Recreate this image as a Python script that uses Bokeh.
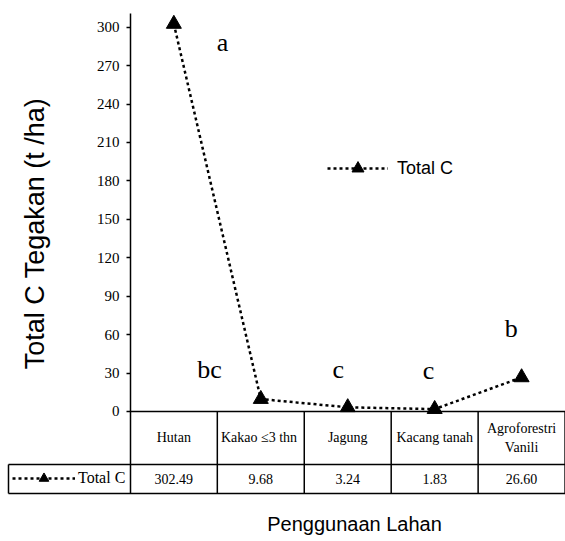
import math
from bokeh.plotting import figure
from bokeh.models import (Range1d, FixedTicker, Legend, LegendItem, Label)
from bokeh.core.properties import value
from bokeh.embed import file_html
from bokeh.resources import INLINE

# ---- data ----
categories = ["Hutan", "Kakao  \u22643 thn", "Jagung", "Kacang tanah", "Agroforestri\nVanili"]
total_c = [302.49, 9.68, 3.24, 1.83, 26.60]
sig_letters = ["a", "bc", "c", "c", "b"]
y_ticks = [0, 30, 60, 90, 120, 150, 180, 210, 240, 270, 300]
series_name = "Total C"
x_title = "Penggunaan Lahan"
y_title = "Total C Tegakan (t /ha)"

# ---- layout (positions of annotations, in data units) ----
letter_x = [1.06, 0.91, 2.39, 3.43, 4.38]
letter_y = [288, 32.8, 32.8, 32.0, 64.8]
row1_y = -41.4
row2_y = -64.0
table_left = -1.402

W, H = 565, 541
p = figure(width=W, height=H, output_backend="svg", toolbar_location=None,
           x_range=Range1d(-1.494, 5.005), y_range=Range1d(-101.5, 320.8),
           min_border=0, x_axis_location=None)
p.outline_line_color = None
p.grid.visible = False
p.background_fill_color = "white"

ax = p.yaxis[0]
ax.fixed_location = 0
ax.bounds = (row2_y, 310.6)
ax.ticker = FixedTicker(ticks=y_ticks)
ax.major_tick_out = 4
ax.major_tick_in = 0
ax.minor_tick_line_color = None
ax.axis_line_width = 1.5
ax.axis_line_color = "black"
ax.major_tick_line_color = "black"
ax.major_tick_line_width = 1.5
ax.major_label_text_font = "Liberation Serif"
ax.major_label_text_font_size = "15px"
ax.major_label_text_color = "black"
ax.major_label_standoff = 7

xs = [i + 0.5 for i in range(len(categories))]

# table lines
n = len(categories)
hx0 = [0, table_left, table_left]
hx1 = [n, n, n]
hy = [0, row1_y, row2_y]
p.segment(x0=hx0, y0=hy, x1=hx1, y1=hy, line_color="black", line_width=1.5)
vx = list(range(1, n + 1)) + [table_left]
vy0 = [row2_y] * n + [row2_y]
vy1 = [0] * n + [row1_y]
p.segment(x0=vx, y0=vy0, x1=vx, y1=vy1, line_color="black", line_width=1.5)

# series
lr = p.line(xs, total_c, line_color="black", line_width=2.5, line_dash="3 3")
sr = p.scatter(xs, total_c, marker="triangle", size=15, fill_color="black", line_color="black")

# category labels & values
p.text(x=xs, y=[row1_y / 2] * n, text=categories, text_align="center", text_baseline="middle",
       text_font=value("Liberation Serif"), text_font_size="14px", text_color="black",
       text_line_height=1.3)
p.text(x=xs, y=[(row1_y + row2_y) / 2] * n, text=[f"{v:.2f}" for v in total_c],
       text_align="center", text_baseline="middle",
       text_font=value("Liberation Serif"), text_font_size="14px", text_color="black")

# significance letters
p.text(x=letter_x, y=letter_y, text=sig_letters, text_align="center", text_baseline="middle",
       text_font=value("Liberation Serif"), text_font_size="26px", text_color="black")

# legends
leg = Legend(items=[LegendItem(label=series_name, renderers=[lr, sr])], location=(327, 358),
             glyph_width=61, glyph_height=30, padding=0, margin=0, label_standoff=9,
             border_line_color=None, background_fill_alpha=0,
             label_text_font="Liberation Sans", label_text_font_size="18px",
             label_text_color="black")
p.add_layout(leg)
leg2 = Legend(items=[LegendItem(label=series_name, renderers=[lr, sr])], location=(12, 51),
              glyph_width=63, glyph_height=24, padding=0, margin=0, label_standoff=3,
              border_line_color=None, background_fill_alpha=0,
              label_text_font="Liberation Serif", label_text_font_size="16px",
              label_text_color="black")
p.add_layout(leg2)

# titles
p.add_layout(Label(x=34, y=H - 233, x_units="screen", y_units="screen", text=y_title,
                   angle=math.pi / 2, text_align="center", text_baseline="middle",
                   text_font="Liberation Sans", text_font_size="27px", text_color="black"))
p.add_layout(Label(x=354, y=H - 523, x_units="screen", y_units="screen", text=x_title,
                   text_align="center", text_baseline="middle",
                   text_font="Liberation Sans", text_font_size="20px", text_color="black"))

open("out.html", "w").write(file_html(p, INLINE))
